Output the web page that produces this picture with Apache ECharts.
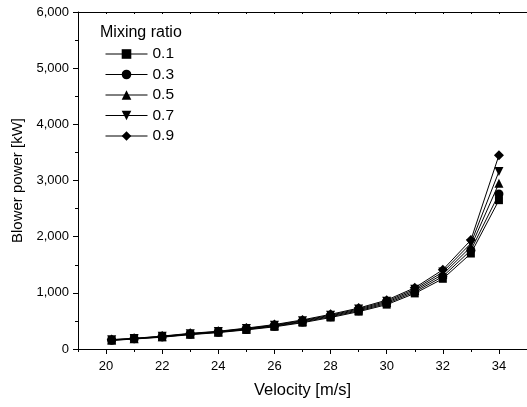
<!DOCTYPE html>
<html>
<head>
<meta charset="utf-8">
<script src="https://cdn.jsdelivr.net/npm/echarts@6/dist/echarts.min.js"></script>
<style>html,body{margin:0;padding:0;background:#fff;}#c{width:527px;height:407px;}</style>
</head>
<body>
<div id="c"></div>
<script>
const velocity = [20.2, 21, 22, 23, 24, 25, 26, 27, 28, 29, 30, 31, 32, 33, 34];
const ratio01 = [152, 178, 210, 255, 292, 340, 395, 468, 560, 665, 790, 990, 1250, 1700, 2650];
const ratio03 = [156, 181, 215, 261, 298, 348, 405, 480, 575, 680, 810, 1015, 1290, 1760, 2760];
const ratio05 = [160, 184, 220, 267, 304, 356, 415, 493, 589, 696, 830, 1040, 1330, 1820, 2950];
const ratio07 = [164, 187, 225, 273, 310, 364, 425, 505, 603, 712, 850, 1065, 1370, 1880, 3160];
const ratio09 = [168, 190, 230, 279, 316, 372, 435, 518, 617, 728, 870, 1090, 1410, 1940, 3450];
const seriesNames = ['0.1', '0.3', '0.5', '0.7', '0.9'];
const xMajorTicks = [20, 22, 24, 26, 28, 30, 32, 34];
const xMinorTicks = [19, 21, 23, 25, 27, 29, 31, 33, 35];
const xAllTicks = [19,20,21,22,23,24,25,26,27,28,29,30,31,32,33,34,35];

const values = [ratio01, ratio03, ratio05, ratio07, ratio09];
const symbols = ['rect', 'circle', 'triangle', 'path://M0,0L2,0L1,1.8Z', 'diamond'];
const sizes = [8, 9, 9, 9, 10];
const font = 'Liberation Sans, Arial, sans-serif';

const chart = echarts.init(document.getElementById('c'), null, {renderer: 'canvas'});
const series = values.map((v, i) => ({
  name: seriesNames[i],
  type: 'line',
  xAxisIndex: 0,
  yAxisIndex: 0,
  data: velocity.map((x, j) => [x, v[j]]),
  symbol: symbols[i],
  symbolSize: sizes[i],
  showAllSymbol: true,
  lineStyle: {color: '#000', width: 1},
  itemStyle: {color: '#000'},
  animation: false
}));

const baseX = {
  type: 'value', min: 19, max: 35, gridIndex: 0,
  splitLine: {show: false}
};

chart.setOption({
  animation: false,
  grid: {left: 78, top: 12, right: 0, bottom: 58, containLabel: false},
  graphic: [{
    type: 'text', left: 100, top: 25,
    style: {text: 'Mixing ratio', font: '16px ' + font, fill: '#000'}
  }],
  legend: {
    data: seriesNames,
    orient: 'vertical',
    left: 100, top: 41,
    itemWidth: 42, itemHeight: 12, itemGap: 4.5,
    lineStyle: {width: 1},
    textStyle: {fontFamily: font, fontSize: 15.5, color: '#000', padding: [0,0,0,0]}
  },
  xAxis: [
    Object.assign({}, baseX, {
      position: 'bottom',
      name: 'Velocity [m/s]', nameLocation: 'middle', nameGap: 33,
      nameTextStyle: {fontFamily: font, fontSize: 16.5, color: '#000'},
      axisLine: {show: true, lineStyle: {color: '#000', width: 1}},
      axisTick: {show: true, inside: false, length: 5, customValues: xMajorTicks, lineStyle: {color: '#000'}},
      axisLabel: {show: true, customValues: xMajorTicks, margin: 11, fontFamily: font, fontSize: 13, color: '#000'}
    }),
    Object.assign({}, baseX, {
      position: 'bottom',
      axisLine: {show: false},
      axisTick: {show: true, inside: false, length: 3, customValues: xMinorTicks, lineStyle: {color: '#000'}},
      axisLabel: {show: false}
    }),
    Object.assign({}, baseX, {
      position: 'top',
      axisLine: {show: true, lineStyle: {color: '#000', width: 1}},
      axisTick: {show: true, inside: true, length: 2, customValues: xAllTicks, lineStyle: {color: '#000'}},
      axisLabel: {show: false}
    })
  ],
  yAxis: [{
    type: 'value', min: 0, max: 6000, interval: 1000,
    name: 'Blower power [kW]', nameLocation: 'middle', nameGap: 52,
    nameTextStyle: {fontFamily: font, fontSize: 15, color: '#000'},
    axisLine: {show: true, lineStyle: {color: '#000', width: 1}},
    axisTick: {show: true, inside: false, length: 5, lineStyle: {color: '#000'}},
    minorTick: {show: true, splitNumber: 2, length: 3, lineStyle: {color: '#000'}},
    axisLabel: {margin: 9, fontFamily: font, fontSize: 13, color: '#000',
      formatter: v => v.toLocaleString('en-US')},
    splitLine: {show: false}
  }],
  series: series
});
</script>
</body>
</html>
